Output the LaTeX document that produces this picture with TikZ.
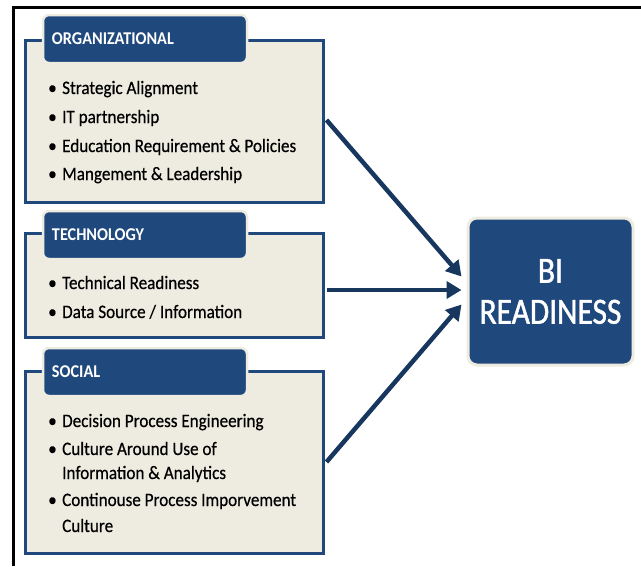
\documentclass[tikz,border=0pt]{standalone}
\usepackage{fontspec}
\setmainfont{Carlito}[FakeStretch=0.9, FakeBold=0.5]
\newfontfamily\hdfont{Carlito}[FakeStretch=0.9]
\newfontfamily\bifont{Carlito}[FakeStretch=0.85, FakeBold=1.2]
\usetikzlibrary{arrows.meta,calc}
\definecolor{navy}{RGB}{31,73,125}
\definecolor{arrowc}{RGB}{23,55,94}
\definecolor{tanbg}{RGB}{238,236,225}
\begin{document}
\begin{tikzpicture}[x=1pt,y=-1pt,
  panel/.style={draw=navy, line width=3pt, fill=tanbg, minimum width=298pt, inner sep=0pt},
  tab/.style={draw=tanbg, line width=2.5pt, fill=navy, rounded corners=6pt,
    minimum width=204pt, minimum height=48pt, text width=186pt, inner xsep=9pt, inner ysep=0pt,
    text=white, align=left, font=\hdfont\bfseries\fontsize{18}{21}\selectfont},
  item/.style={anchor=base west, inner sep=0pt, font=\fontsize{19}{22}\selectfont, text=black},
  bibox/.style={draw=tanbg, line width=3pt, fill=navy, rounded corners=9pt,
    minimum width=165pt, minimum height=147pt, text=white, align=center,
    font=\bifont\fontsize{37}{41}\selectfont},
  conn/.style={draw=arrowc, line width=4.5pt, -{Triangle[length=15pt,width=17pt]}},
  frame/.style={draw=black, line width=3pt}
]
\useasboundingbox (0,0) rectangle (641,566);
\draw[frame] (13,566) -- (13,7.5) -- (641,7.5);

% panels
\node[panel, minimum height=162pt] (org) at (174,121) {};
\node[panel, minimum height=104pt] (tech) at (174,285) {};
\node[panel, minimum height=182pt] (soc) at (174,462) {};

% tabs
\node[tab] (orgtab) at (145,39) {ORGANIZATIONAL};
\node[tab] (techtab) at (145,235) {TECHNOLOGY};
\node[tab] (soctab) at (145,372) {SOCIAL};

% bullet items
\newcommand{\bul}{\makebox[14pt][l]{\textbullet}}
\node[item] (o1) at (48,94) {\bul Strategic Alignment};
\node[item] (o2) at (48,123) {\bul IT partnership};
\node[item] (o3) at (48,152) {\bul Education Requirement \& Policies};
\node[item] (o4) at (48,180) {\bul Mangement \& Leadership};

\node[item] (t1) at (48,289) {\bul Technical Readiness};
\node[item] (t2) at (48,318) {\bul Data Source / Information};

\node[item] (s1) at (48,427) {\bul Decision Process Engineering};
\node[item] (s2) at (48,455) {\bul Culture Around Use of};
\node[item] (s3) at (62,479) {Information \& Analytics};
\node[item] (s4) at (48,506) {\bul Continouse Process Imporvement};
\node[item] (s5) at (62,532) {Culture};

% BI box
\node[bibox] (bi) at (550.5,291.5) {BI\\READINESS};

% connectors
\draw[conn] ($(org.east)+(2,-1)$) -- ($(bi.west)+(-5,-15)$);
\draw[conn] ($(tech.east)+(2,5)$) -- ($(bi.west)+(-5,-1.5)$);
\draw[conn] ($(soc.east)+(2,0)$) -- ($(bi.west)+(-5,13)$);
\end{tikzpicture}
\end{document}
